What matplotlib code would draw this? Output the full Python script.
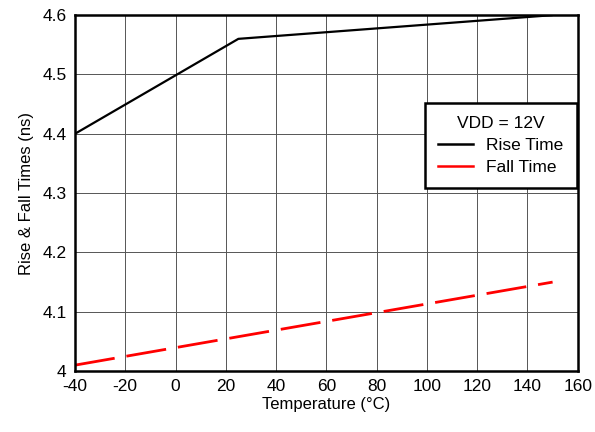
import matplotlib
matplotlib.use('Agg')
import matplotlib.pyplot as plt
from matplotlib.lines import Line2D

plt.rcParams['font.family'] = ['Liberation Sans', 'DejaVu Sans']
plt.rcParams['axes.unicode_minus'] = False

# data
temp_rise = [-40, 25, 150]
rise_time = [4.40, 4.56, 4.60]
temp_fall = [-40, 25, 150]
fall_time = [4.01, 4.058, 4.15]

x_ticks = list(range(-40, 161, 20))
y_ticks = [4.0, 4.1, 4.2, 4.3, 4.4, 4.5, 4.6]
y_labels = ['4', '4.1', '4.2', '4.3', '4.4', '4.5', '4.6']

fig = plt.figure(figsize=(5.95, 4.32), dpi=100)
ax = fig.add_axes([0.126, 0.141, 0.845, 0.824])

ax.plot(temp_rise, rise_time, color='black', lw=1.6, solid_capstyle='butt')
ax.plot(temp_fall, fall_time, color='#ff0000', lw=2.0, dashes=(14.5, 4.3))

ax.set_xlim(-40, 160)
ax.set_ylim(4.0, 4.6)
ax.set_xticks(x_ticks)
ax.set_yticks(y_ticks)
ax.set_yticklabels(y_labels)
ax.grid(True, color='#555555', lw=0.7)
ax.tick_params(length=0, labelsize=12.5, pad=6)
for s in ax.spines.values():
    s.set_linewidth(1.8)

ax.set_xlabel('Temperature (°C)', fontsize=12, labelpad=2)
ax.set_ylabel('Rise & Fall Times (ns)', fontsize=12, labelpad=6)

# legend shows solid samples for both series
handles = [Line2D([], [], color='black', lw=1.8),
           Line2D([], [], color='#ff0000', lw=1.8)]
leg = ax.legend(handles, ['Rise Time', 'Fall Time'], title='VDD = 12V',
                loc='upper right', bbox_to_anchor=(0.998, 0.753),
                borderaxespad=0, fontsize=12.5, title_fontsize=12.5,
                fancybox=False, framealpha=1, edgecolor='black',
                handlelength=2.0, handletextpad=0.8, borderpad=0.75,
                labelspacing=0.4)
leg.get_frame().set_linewidth(1.8)

fig.savefig('out.png', dpi=100)
